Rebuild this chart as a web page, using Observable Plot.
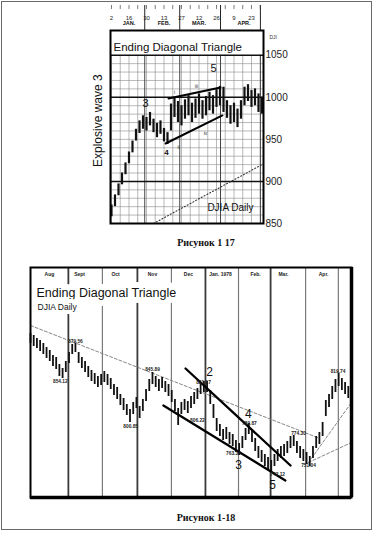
<!DOCTYPE html>
<html><head><meta charset="utf-8">
<script src="https://cdn.jsdelivr.net/npm/d3@7"></script>
<script src="https://cdn.jsdelivr.net/npm/@observablehq/plot@0.6"></script>
<style>
html,body{margin:0;padding:0;background:#fff;}
#page{position:relative;width:375px;height:533px;overflow:hidden;background:#fff;font-family:"Liberation Sans",Arial,sans-serif;}
#border{position:absolute;left:1px;top:1px;width:371px;height:529px;border:1px solid #6a6a6a;box-sizing:border-box;}
.chart{position:absolute;left:0;}
.cap{position:absolute;left:146px;width:120px;text-align:center;font-family:"Liberation Serif","DejaVu Serif",serif;font-weight:bold;font-size:10px;line-height:12px;color:#111;}
</style></head>
<body><div id="page"><div id="border"></div>
<div id="c1" class="chart" style="top:0"></div>
<div class="cap" style="top:237px">Рисунок 1 17</div>
<div id="c2" class="chart" style="top:255px"></div>
<div class="cap" style="top:512px">Рисунок 1-18</div>
</div>
<script>
// ---------- Figure 1-17 : DJIA daily, Jan–Apr 1976 (x = trading day from Jan 2) ----------
const topDay  = [0,2,4,6,8,10,12,14,16,18,20,22,24,26,28,30,32,34,36,38,40,42,44,46,48,50,52,54,56,58,60,62,64,66,68,70,72,74,76,78,80,82,84,86];
const topHigh = [872,884,897,910,922,935,948,962,972,978,976,982,974,969,972,963,958,992,1000,995,990,997,1002,993,998,1004,996,1001,1006,1002,1009,1013,1012,996,990,993,986,996,1012,1015,1008,1010,1004,1000];
const topLow  = [858,870,883,896,908,921,934,948,957,962,960,966,958,952,956,947,944,960,976,970,966,974,978,970,975,980,974,978,984,980,988,990,982,975,968,970,964,974,990,995,988,990,982,980];
const topYTicks = [850,900,950,1000,1050];
const topGridMinor = [860,870,880,890,910,920,930,940,950,960,970,980,990,1010,1020,1030,1040];
const topGridMajor = [900,1000,1050];
const topGridDays = [0,5,10,15,20,25,30,35,40,45,50,55,60,65,70,75,80,85];
const topMonthSep = [19,39,62.3,85.1];
const topLabelDays = [0,10,20,30,40,50,60,70,80];
const topDayLabels = ["2","16","30","13","27","12","26","9","23"];
const topMonthDays = [10,30,50,75.7];
const topMonths = ["JAN.","FEB.","MAR.","APR."];
const topMA = [{day:24,v:850},{day:86.9,v:921}];
const topTrend = [
  {id:"upper",day:32.6,v:998.6},{id:"upper",day:62.3,v:1011.6},
  {id:"lower",day:30.9,v:945.1},{id:"lower",day:63.4,v:978.4}
];
const topWavesBig = [{day:19.4,v:992.6,t:"3"},{day:58.3,v:1034.2,t:"5"}];
const topWave4 = [{day:31.4,v:934.4,t:"4"}];
const topWavesSmall = [{day:36,v:1005.7,t:"i"},{day:38.3,v:940.3,t:"ii"},{day:48.6,v:1012.8,t:"iii"},{day:53.7,v:957,t:"iv"}];

// ---------- Figure 1-18 : DJIA daily, Aug 1977 – Apr 1978 (x = bar number, 2 days per bar) ----------
const botHigh = [881,879,876,874,871,867,864,859,857,850, 846,853,862,870,871,862,857,853,848,844,
  841,838,840,843,840,836,830,827,820,816, 810,805,812,817,808,815,825,835,842,838,
  835,837,833,830,824,815,806,812,815,813, 818,822,826,831,833,833,824,810,796,790,
  785,787,782,780,774,771,778,786,791,785, 776,768,764,760,757,754,760,765,768,770,
  773,778,779,773,768,765,762,758,768,778, 782,792,814,820,828,835,841,836,832,828];
const botLow = [871,868,866,863,860,856,853,848,845,838, 836,842,851,860,862,851,846,842,837,833,
  830,827,829,832,829,825,819,815,809,804, 799,792,800,806,796,803,813,823,830,827,
  823,826,822,818,812,803,789,800,804,801, 806,810,815,820,822,822,810,796,783,778,
  774,775,770,768,762,759,766,774,780,772, 763,756,752,748,745,742,748,753,756,758,
  761,766,768,761,756,753,750,748,756,766, 770,778,798,807,815,822,828,824,820,816];
const botMonthSepDark = [11.8,33.3,54.5,74.8];
const botMonthSepLight = [22.4,43.9,64.8,85.7,95.9];
const botMonthPos = [5.9,15.3,26.5,38,49.2,59.2,70.1,78.8,91.3];
const botMonths = ["Aug","Sept","Oct","Nov","Dec","Jan. 1978","Feb.","Mar.","Apr."];
const botTrend = [
  {id:"a",i:48.3,v:846},{id:"a",i:81.0,v:749},
  {id:"b",i:41.4,v:809},{id:"b",i:79.4,v:734}
];
const botDash = [
  {id:"long",i:0,v:889},{id:"long",i:89.4,v:777},
  {id:"fan1",i:86.6,v:752},{id:"fan1",i:100,v:812},
  {id:"fan2",i:86.6,v:752},{id:"fan2",i:100,v:772}
];
const botValues = [
  {i:9.3,v:833,t:"854.12"},{i:14.0,v:873,t:"879.56"},{i:31.2,v:788,t:"800.85"},
  {i:38.0,v:845,t:"845.89"},{i:53.9,v:832,t:"831.17"},{i:52.0,v:794,t:"806.22"},
  {i:63.2,v:761,t:"763.34"},{i:68.2,v:791,t:"789.87"},{i:83.5,v:781,t:"774.30"},
  {i:77.0,v:740,t:"742.12"},{i:86.6,v:749,t:"751.04"},{i:95.8,v:843,t:"819.74"}
];
const botWaves = [{i:55.8,v:842,t:"2"},{i:64.8,v:749,t:"3"},{i:67.9,v:800,t:"4"},{i:75.4,v:729,t:"5"}];

const FONT = "Liberation Sans, Arial, sans-serif";

const tx0 = -0.57, tx1 = 86.86, ty0 = 850, ty1 = 1079.4;
const pxPrice = (ty1 - ty0) / 193;

const chartTop = Plot.plot({
  width: 375, height: 235,
  marginLeft: 110, marginRight: 112, marginTop: 30, marginBottom: 12,
  x: {domain: [tx0, tx1], axis: null},
  y: {domain: [ty0, ty1], axis: null, label: null},
  style: {background: "transparent", overflow: "visible", fontFamily: FONT, color: "#111"},
  marks: [
    Plot.ruleY(topGridMinor, {x1: tx0, x2: tx1, stroke: "#8a8a8a", strokeWidth: 0.6}),
    Plot.ruleX(topGridDays, {y1: ty0, y2: 1050, stroke: "#8a8a8a", strokeWidth: 0.6}),
    Plot.ruleX(topMonthSep, {y1: ty0, y2: 1050, stroke: "#444", strokeWidth: 1}),
    Plot.ruleY(topGridMajor, {x1: tx0, x2: tx1, stroke: "#111", strokeWidth: 1.5}),
    Plot.line(topMA, {x: "day", y: "v", stroke: "#333", strokeWidth: 1.1, strokeDasharray: "1 2.2"}),
    Plot.ruleX(topDay, {x: d => d, y1: (d, i) => topLow[i], y2: (d, i) => topHigh[i], stroke: "#111", strokeWidth: 2.2}),
    Plot.line(topTrend, {x: "day", y: "v", z: "id", stroke: "#000", strokeWidth: 2}),
    Plot.text(topWavesBig, {x: "day", y: "v", text: "t", fontSize: 11, fill: "#111"}),
    Plot.text(topWave4, {x: "day", y: "v", text: "t", fontSize: 8, fontWeight: "bold", fill: "#111"}),
    Plot.text(topWavesSmall, {x: "day", y: "v", text: "t", fontSize: 5, fill: "#333"}),
    Plot.frame({stroke: "#000", strokeWidth: 2}),
    Plot.text(["Ending Diagonal Triangle"], {frameAnchor: "top-left", dx: 3, dy: 12, textAnchor: "start", fontSize: 11.5, fill: "#111"}),
    Plot.text(["DJIA Daily"], {frameAnchor: "bottom-right", dx: -10, dy: -13, textAnchor: "end", fontSize: 10, fill: "#111"}),
    Plot.text(["Explosive wave 3"], {frameAnchor: "left", rotate: -90, dx: -12, dy: 40, fontSize: 12, fill: "#111"}),
    Plot.text(["DJI"], {frameAnchor: "top-right", dx: 6, dy: 5, textAnchor: "start", fontSize: 5, fill: "#333"}),
    Plot.axisY({anchor: "right", ticks: topYTicks, tickSize: 0, tickPadding: 2, fontSize: 10, label: null, tickFormat: d => String(d), fill: "#222"}),
    Plot.ruleX(topMonthSep, {y1: ty1, y2: ty1 + 25 * pxPrice, stroke: "#222", strokeWidth: 1}),
    Plot.ruleX(topGridDays, {y1: ty1 + 21 * pxPrice, y2: ty1 + 25 * pxPrice, stroke: "#444", strokeWidth: 0.7}),
    Plot.text(topLabelDays, {x: d => d, text: (d, i) => topDayLabels[i], frameAnchor: "top", dy: -15, fontSize: 6, fill: "#222"}),
    Plot.text(topMonthDays, {x: d => d, text: (d, i) => topMonths[i], frameAnchor: "top", dy: -9, fontSize: 5.5, fontWeight: "bold", fill: "#111"})
  ]
});
document.getElementById("c1").appendChild(chartTop);

const bx0 = 0, bx1 = 100, by0 = 717, by1 = 947;
const chartBottom = Plot.plot({
  width: 375, height: 255,
  marginLeft: 30, marginRight: 24, marginTop: 12, marginBottom: 13,
  x: {domain: [bx0, bx1], axis: null},
  y: {domain: [by0, by1], axis: null},
  style: {background: "transparent", overflow: "visible", fontFamily: FONT, color: "#111"},
  marks: [
    Plot.ruleX(botMonthSepLight, {stroke: "#7a7a7a", strokeWidth: 1.2}),
    Plot.ruleX(botMonthSepDark, {stroke: "#3a3a3a", strokeWidth: 1.8}),
    Plot.text(["Ending Diagonal Triangle"], {frameAnchor: "top-left", dx: 6, dy: 21, textAnchor: "start", fontSize: 12.5, fill: "#111", stroke: "white", strokeWidth: 12}),
    Plot.text(["DJIA Daily"], {frameAnchor: "top-left", dx: 7, dy: 36, textAnchor: "start", fontSize: 8.5, fill: "#111", stroke: "white", strokeWidth: 8}),
    Plot.text(botMonthPos, {x: d => d, text: (d, i) => botMonths[i], frameAnchor: "top", dy: 5, fontSize: 5, fontWeight: "bold", fill: "#222"}),
    Plot.line(botDash, {x: "i", y: "v", z: "id", stroke: "#777", strokeWidth: 0.9, strokeDasharray: "3 2"}),
    Plot.ruleX(botHigh, {x: (d, i) => i, y1: (d, i) => botLow[i], y2: d => d, stroke: "#111", strokeWidth: 1.8}),
    Plot.line(botTrend, {x: "i", y: "v", z: "id", stroke: "#000", strokeWidth: 2.3}),
    Plot.text(botValues, {x: "i", y: "v", text: "t", fontSize: 4.8, fontWeight: "bold", fill: "#222"}),
    Plot.text(botWaves, {x: "i", y: "v", text: "t", fontSize: 12, fill: "#111"}),
    Plot.frame({stroke: "#000", strokeWidth: 2}),
    Plot.ruleX([bx1], {stroke: "#000", strokeWidth: 3.5}),
    Plot.ruleY([by0], {stroke: "#000", strokeWidth: 3.5})
  ]
});
document.getElementById("c2").appendChild(chartBottom);
</script>
</body></html>
